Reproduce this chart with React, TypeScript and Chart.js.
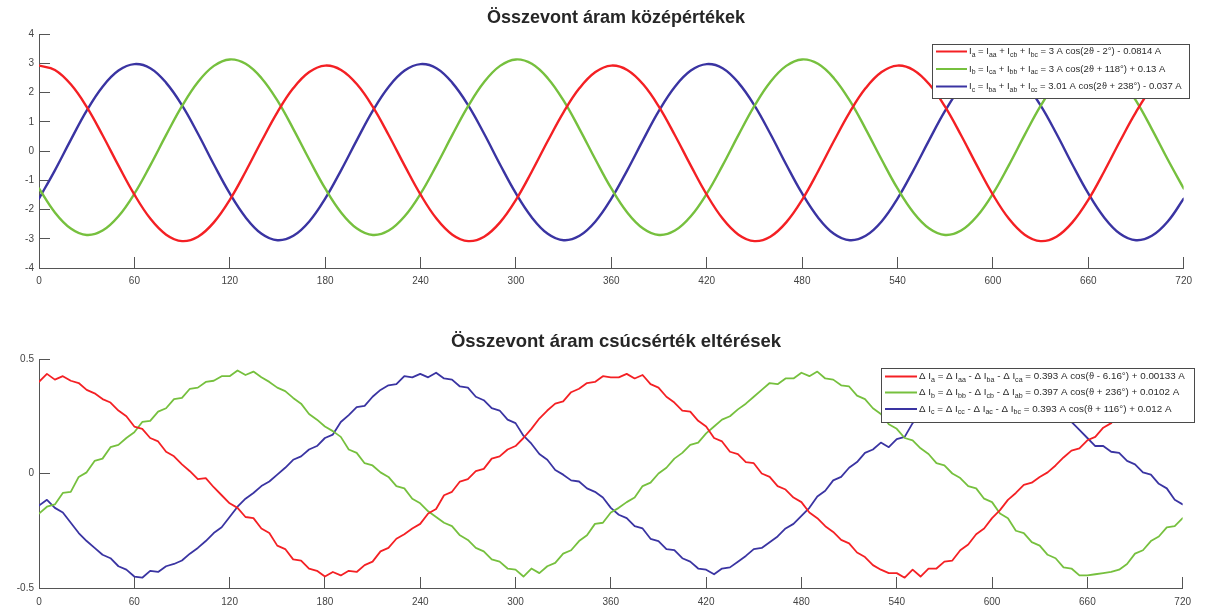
import React, { useEffect, useRef } from 'react';
import { Chart, registerables } from 'chart.js';

Chart.register(...registerables);

const FONT = '"Liberation Sans", Arial, Helvetica, sans-serif';

// ---------- DATA ----------
// Top chart: angle grid (degrees) and currents (A)
const TOP_THETA = Array.from({ length: 73 }, (_, i) => i * 10);
const TOP_RED = [
  2.92, 2.77, 2.28, 1.51, 0.54, -0.5, -1.49, -2.31, -2.86, -3.08, -2.93, -2.44, -1.67, -0.7, 0.34, 1.33, 2.15, 2.7,
  2.92, 2.77, 2.28, 1.51, 0.54, -0.5, -1.49, -2.31, -2.86, -3.08, -2.93, -2.44, -1.67, -0.7, 0.34, 1.33, 2.15, 2.7,
  2.92, 2.77, 2.28, 1.51, 0.54, -0.5, -1.49, -2.31, -2.86, -3.08, -2.93, -2.44, -1.67, -0.7, 0.34, 1.33, 2.15, 2.7,
  2.92, 2.77, 2.28, 1.51, 0.54, -0.5, -1.49, -2.31, -2.86, -3.08, -2.93, -2.44, -1.67, -0.7, 0.34, 1.33, 2.15, 2.7,
  2.92,
];
const TOP_GREEN = [
  -1.28, -2.1, -2.65, -2.87, -2.72, -2.23, -1.46, -0.49, 0.55, 1.54, 2.36, 2.91, 3.13, 2.98, 2.49, 1.72, 0.75, -0.29,
  -1.28, -2.1, -2.65, -2.87, -2.72, -2.23, -1.46, -0.49, 0.55, 1.54, 2.36, 2.91, 3.13, 2.98, 2.49, 1.72, 0.75, -0.29,
  -1.28, -2.1, -2.65, -2.87, -2.72, -2.23, -1.46, -0.49, 0.55, 1.54, 2.36, 2.91, 3.13, 2.98, 2.49, 1.72, 0.75, -0.29,
  -1.28, -2.1, -2.65, -2.87, -2.72, -2.23, -1.46, -0.49, 0.55, 1.54, 2.36, 2.91, 3.13, 2.98, 2.49, 1.72, 0.75, -0.29,
  -1.28,
];
const TOP_BLUE = [
  -1.63, -0.66, 0.38, 1.38, 2.2, 2.75, 2.97, 2.83, 2.33, 1.56, 0.59, -0.46, -1.45, -2.27, -2.83, -3.05, -2.9, -2.41,
  -1.63, -0.66, 0.38, 1.38, 2.2, 2.75, 2.97, 2.83, 2.33, 1.56, 0.59, -0.46, -1.45, -2.27, -2.83, -3.05, -2.9, -2.41,
  -1.63, -0.66, 0.38, 1.38, 2.2, 2.75, 2.97, 2.83, 2.33, 1.56, 0.59, -0.46, -1.45, -2.27, -2.83, -3.05, -2.9, -2.41,
  -1.63, -0.66, 0.38, 1.38, 2.2, 2.75, 2.97, 2.83, 2.33, 1.56, 0.59, -0.46, -1.45, -2.27, -2.83, -3.05, -2.9, -2.41,
  -1.63,
];

// Bottom chart: angle grid (degrees) and peak deviations (A)
const BOT_THETA = Array.from({ length: 145 }, (_, i) => i * 5);
const BOT_RED = [
  0.4, 0.435, 0.41, 0.425, 0.405, 0.395, 0.365, 0.35, 0.325, 0.31, 0.275, 0.25,
  0.205, 0.195, 0.155, 0.14, 0.095, 0.075, 0.04, 0.01, -0.025, -0.02, -0.06, -0.095,
  -0.13, -0.15, -0.19, -0.195, -0.24, -0.26, -0.315, -0.33, -0.375, -0.38, -0.415, -0.425,
  -0.45, -0.43, -0.445, -0.425, -0.43, -0.4, -0.385, -0.34, -0.325, -0.285, -0.265, -0.24,
  -0.22, -0.175, -0.155, -0.095, -0.08, -0.035, -0.025, 0.01, 0.02, 0.065, 0.075, 0.105,
  0.12, 0.155, 0.195, 0.24, 0.275, 0.305, 0.315, 0.355, 0.37, 0.395, 0.4, 0.425,
  0.42, 0.42, 0.435, 0.415, 0.43, 0.39, 0.375, 0.335, 0.31, 0.275, 0.27, 0.23,
  0.205, 0.155, 0.14, 0.095, 0.085, 0.05, 0.045, 0.0, -0.015, -0.055, -0.07, -0.105,
  -0.125, -0.17, -0.195, -0.23, -0.255, -0.29, -0.305, -0.345, -0.365, -0.4, -0.42, -0.435,
  -0.435, -0.455, -0.42, -0.45, -0.415, -0.415, -0.385, -0.38, -0.335, -0.31, -0.265, -0.24,
  -0.195, -0.16, -0.115, -0.085, -0.05, -0.04, -0.015, 0.005, 0.035, 0.07, 0.1, 0.11,
  0.145, 0.16, 0.2, 0.22, 0.265, 0.28, 0.315, 0.33, 0.355, 0.365, 0.385, 0.395,
  0.4,
];
const BOT_GREEN = [
  -0.175, -0.145, -0.135, -0.085, -0.08, -0.015, 0.005, 0.055, 0.065, 0.115, 0.125, 0.155,
  0.18, 0.225, 0.23, 0.27, 0.285, 0.325, 0.33, 0.37, 0.375, 0.4, 0.405, 0.425,
  0.425, 0.45, 0.43, 0.445, 0.42, 0.4, 0.375, 0.36, 0.33, 0.305, 0.26, 0.235,
  0.205, 0.185, 0.16, 0.105, 0.09, 0.045, 0.035, 0.005, -0.015, -0.055, -0.065, -0.11,
  -0.13, -0.165, -0.19, -0.215, -0.23, -0.27, -0.29, -0.325, -0.34, -0.375, -0.385, -0.415,
  -0.42, -0.45, -0.415, -0.435, -0.405, -0.39, -0.35, -0.335, -0.295, -0.27, -0.22, -0.215,
  -0.17, -0.15, -0.125, -0.105, -0.055, -0.04, 0.0, 0.025, 0.065, 0.09, 0.125, 0.135,
  0.175, 0.205, 0.235, 0.25, 0.28, 0.305, 0.335, 0.365, 0.395, 0.39, 0.415, 0.415,
  0.44, 0.425, 0.445, 0.415, 0.41, 0.385, 0.38, 0.34, 0.325, 0.285, 0.26, 0.215,
  0.195, 0.155, 0.145, 0.11, 0.085, 0.045, 0.035, 0.0, -0.02, -0.055, -0.065, -0.11,
  -0.125, -0.175, -0.195, -0.25, -0.26, -0.3, -0.315, -0.355, -0.37, -0.41, -0.415, -0.445,
  -0.445, -0.44, -0.435, -0.43, -0.42, -0.395, -0.35, -0.335, -0.295, -0.275, -0.235, -0.23,
  -0.195,
];
const BOT_BLUE = [
  -0.14, -0.115, -0.15, -0.17, -0.215, -0.26, -0.295, -0.325, -0.355, -0.37, -0.405, -0.42,
  -0.45, -0.455, -0.425, -0.43, -0.405, -0.395, -0.38, -0.35, -0.325, -0.295, -0.26, -0.235,
  -0.19, -0.145, -0.11, -0.085, -0.055, -0.035, -0.005, 0.025, 0.06, 0.075, 0.105, 0.12,
  0.155, 0.17, 0.225, 0.255, 0.29, 0.295, 0.335, 0.365, 0.385, 0.39, 0.425, 0.42,
  0.435, 0.42, 0.44, 0.415, 0.41, 0.38, 0.375, 0.335, 0.32, 0.285, 0.275, 0.235,
  0.22, 0.165, 0.13, 0.085, 0.06, 0.015, -0.005, -0.03, -0.035, -0.065, -0.08, -0.105,
  -0.15, -0.18, -0.195, -0.23, -0.24, -0.285, -0.295, -0.33, -0.335, -0.37, -0.385, -0.415,
  -0.42, -0.44, -0.415, -0.41, -0.385, -0.36, -0.33, -0.325, -0.3, -0.275, -0.24, -0.22,
  -0.185, -0.15, -0.1, -0.075, -0.03, -0.015, 0.025, 0.05, 0.09, 0.105, 0.135, 0.115,
  0.15, 0.16, 0.22, 0.245, 0.285, 0.305, 0.34, 0.355, 0.385, 0.395, 0.415, 0.415,
  0.43, 0.425, 0.42, 0.395, 0.38, 0.345, 0.335, 0.295, 0.28, 0.245, 0.225, 0.19,
  0.155, 0.12, 0.12, 0.095, 0.09, 0.055, 0.04, 0.005, -0.005, -0.045, -0.065, -0.115,
  -0.135,
];

const TOP_TITLE = 'Összevont áram középértékek';
const BOT_TITLE = 'Összevont áram csúcsérték eltérések';

const TOP_LEGEND = [
  'I_{a} = I_{aa} + I_{cb} + I_{bc} = 3 A cos(2ϑ - 2°) - 0.0814 A',
  'I_{b} = I_{ca} + I_{bb} + I_{ac} = 3 A cos(2ϑ + 118°) + 0.13 A',
  'I_{c} = I_{ba} + I_{ab} + I_{cc} = 3.01 A cos(2ϑ + 238°) - 0.037 A',
];
const BOT_LEGEND = [
  'Δ I_{a} = Δ I_{aa} - Δ I_{ba} - Δ I_{ca} = 0.393 A cos(ϑ - 6.16°) + 0.00133 A',
  'Δ I_{b} = Δ I_{bb} - Δ I_{cb} - Δ I_{ab} = 0.397 A cos(ϑ + 236°) + 0.0102 A',
  'Δ I_{c} = Δ I_{cc} - Δ I_{ac} - Δ I_{bc} = 0.393 A cos(ϑ + 116°) + 0.012 A',
];

const RED = 'rgb(244,32,36)';
const GREEN = 'rgb(118,192,62)';
const BLUE = 'rgb(58,52,162)';
const COLORS = [RED, GREEN, BLUE];

// ---------- helpers ----------
type Part = { t: string; sub: boolean };
function parseRich(s: string): Part[] {
  const parts: Part[] = [];
  const re = /_\{([^}]*)\}/g;
  let last = 0;
  let m: RegExpExecArray | null;
  while ((m = re.exec(s))) {
    if (m.index > last) parts.push({ t: s.slice(last, m.index), sub: false });
    parts.push({ t: m[1], sub: true });
    last = re.lastIndex;
  }
  if (last < s.length) parts.push({ t: s.slice(last), sub: false });
  return parts;
}

function drawRich(ctx: CanvasRenderingContext2D, s: string, x: number, y: number, size: number) {
  let cx = x;
  for (const p of parseRich(s)) {
    const fs = p.sub ? size * 0.72 : size;
    ctx.font = `${fs}px ${FONT}`;
    ctx.fillText(p.t, cx, p.sub ? y + size * 0.35 : y);
    cx += ctx.measureText(p.t).width;
  }
}

type Overlay = {
  title: string;
  titleY: number;
  titleSize: number;
  legend: string[];
  box: { x: number; y: number; w: number; h: number };
  rowsY: number[];
  lineX: [number, number];
  textX: number;
  fontSize: number;
  lineWidth: number;
};

function overlayPlugin(o: Overlay) {
  return {
    id: 'overlay',
    afterDraw(chart: any) {
      const ctx: CanvasRenderingContext2D = chart.ctx;
      ctx.save();
      // title
      ctx.fillStyle = '#262626';
      ctx.font = `bold ${o.titleSize}px ${FONT}`;
      ctx.textAlign = 'center';
      ctx.textBaseline = 'middle';
      ctx.fillText(o.title, 616, o.titleY);
      // legend box
      ctx.fillStyle = '#ffffff';
      ctx.fillRect(o.box.x, o.box.y, o.box.w, o.box.h);
      ctx.strokeStyle = '#4a4a4a';
      ctx.lineWidth = 1;
      ctx.strokeRect(o.box.x + 0.5, o.box.y + 0.5, o.box.w, o.box.h);
      ctx.textAlign = 'left';
      o.legend.forEach((s, i) => {
        const y = o.rowsY[i];
        ctx.strokeStyle = COLORS[i];
        ctx.lineWidth = o.lineWidth;
        ctx.beginPath();
        ctx.moveTo(o.lineX[0], y);
        ctx.lineTo(o.lineX[1], y);
        ctx.stroke();
        ctx.fillStyle = '#2a2a2a';
        drawRich(ctx, s, o.textX, y, o.fontSize);
      });
      ctx.restore();
    },
  };
}

function axisOpts(extra: any) {
  return {
    type: 'linear',
    ...extra,
    grid: { drawOnChartArea: false, tickLength: -11, color: '#555', lineWidth: 1 },
    border: { display: true, color: '#555', width: 1 },
  };
}

function makeChart(
  canvas: HTMLCanvasElement,
  xs: number[],
  series: number[][],
  width: number,
  yMin: number,
  yMax: number,
  yStep: number,
  padTop: number,
  xHeight: number,
  xPad: number,
  tension: number,
  overlay: Overlay
) {
  const tickFont = { size: 10, family: FONT };
  return new Chart(canvas, {
    type: 'line',
    data: {
      datasets: series.map((vals, k) => ({
        data: xs.map((x, i) => ({ x, y: vals[i] })),
        borderColor: COLORS[k],
        borderWidth: width,
        pointRadius: 0,
        tension,
        fill: false,
        borderJoinStyle: 'round',
        borderCapStyle: 'round',
      })),
    },
    options: {
      animation: false,
      responsive: false,
      events: [],
      layout: { padding: { top: padTop, right: 11, left: 0, bottom: 0 } },
      plugins: { legend: { display: false }, tooltip: { enabled: false }, title: { display: false } },
      scales: {
        x: axisOpts({
          min: 0,
          max: 720,
          ticks: { stepSize: 60, padding: xPad, color: '#444', font: tickFont, maxRotation: 0, autoSkip: false },
          afterFit: (s: any) => {
            s.height = xHeight;
          },
        }),
        y: axisOpts({
          min: yMin,
          max: yMax,
          ticks: { stepSize: yStep, padding: 16, color: '#444', font: tickFont },
          afterFit: (s: any) => {
            s.width = 39;
          },
        }),
      },
    } as any,
    plugins: [overlayPlugin(overlay)],
  } as any);
}

export default function App() {
  const topRef = useRef<HTMLCanvasElement>(null);
  const botRef = useRef<HTMLCanvasElement>(null);

  useEffect(() => {
    const c1 = makeChart(
      topRef.current!,
      TOP_THETA,
      [TOP_RED, TOP_GREEN, TOP_BLUE],
      2.4,
      -4,
      4,
      1,
      34,
      32,
      18,
      0.4,
      {
        title: TOP_TITLE,
        titleY: 18,
        titleSize: 18,
        legend: TOP_LEGEND,
        box: { x: 932, y: 44, w: 257, h: 54 },
        rowsY: [51.5, 69, 86.5],
        lineX: [936, 967],
        textX: 969,
        fontSize: 9.5,
        lineWidth: 2,
      }
    );
    const c2 = makeChart(
      botRef.current!,
      BOT_THETA,
      [BOT_RED, BOT_GREEN, BOT_BLUE],
      1.8,
      -0.5,
      0.5,
      0.5,
      59,
      19,
      19,
      0,
      {
        title: BOT_TITLE,
        titleY: 42,
        titleSize: 18.5,
        legend: BOT_LEGEND,
        box: { x: 881, y: 68, w: 313, h: 54 },
        rowsY: [76.5, 92.5, 109],
        lineX: [885, 917],
        textX: 919,
        fontSize: 9.8,
        lineWidth: 2,
      }
    );
    return () => {
      c1.destroy();
      c2.destroy();
    };
  }, []);

  return (
    <div style={{ position: 'absolute', left: 0, top: 0, width: 1210, height: 610, background: '#fff' }}>
      <canvas ref={topRef} width={1210} height={300} style={{ position: 'absolute', left: 0, top: 0 }} />
      <canvas ref={botRef} width={1210} height={310} style={{ position: 'absolute', left: 0, top: 300 }} />
    </div>
  );
}
